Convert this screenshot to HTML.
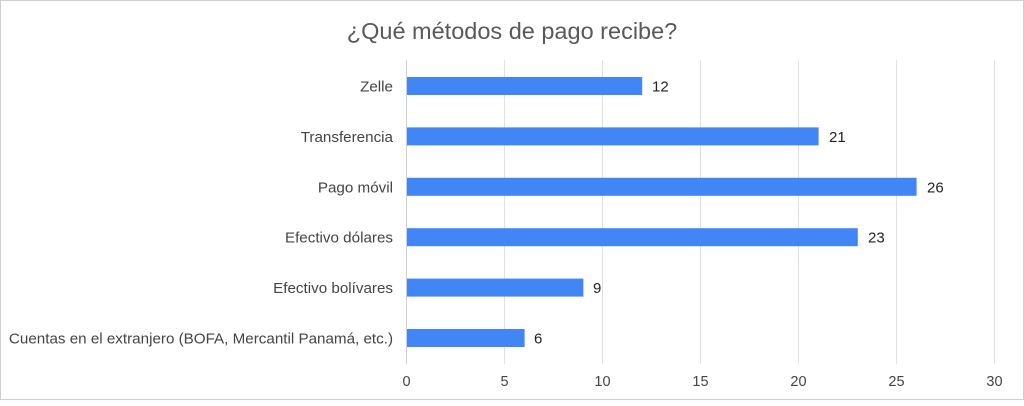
<!DOCTYPE html>
<html><head><style>
body{margin:0;background:#fff;}
svg text{font-family:"Liberation Sans",Arial,sans-serif;}
</style></head><body>
<svg width="1024" height="401" xmlns="http://www.w3.org/2000/svg">
<rect x="0.5" y="0.5" width="1023" height="399" fill="#fff" stroke="#cfcfcf"/>
<text x="512" y="39" font-size="23.5" fill="#595959" text-anchor="middle">¿Qué métodos de pago recibe?</text>
<g stroke="#e0e0e0" stroke-width="1">
<line x1="504.5" y1="60" x2="504.5" y2="364"/>
<line x1="602.5" y1="60" x2="602.5" y2="364"/>
<line x1="700.5" y1="60" x2="700.5" y2="364"/>
<line x1="798.5" y1="60" x2="798.5" y2="364"/>
<line x1="896.5" y1="60" x2="896.5" y2="364"/>
<line x1="994.5" y1="60" x2="994.5" y2="364"/>
<line x1="406.5" y1="60" x2="406.5" y2="364" stroke="#d0d0d0"/>
</g>
<g fill="#4285f4">
<rect x="407" y="77" width="235.2" height="18"/>
<rect x="407" y="127.4" width="411.6" height="18"/>
<rect x="407" y="177.8" width="509.6" height="18"/>
<rect x="407" y="228.2" width="450.8" height="18"/>
<rect x="407" y="278.6" width="176.4" height="18"/>
<rect x="407" y="329" width="117.6" height="18"/>
</g>
<g font-size="15" fill="#222">
<text x="652" y="91.5">12</text>
<text x="829" y="141.9">21</text>
<text x="927" y="192.3">26</text>
<text x="868" y="242.7">23</text>
<text x="593" y="293.1">9</text>
<text x="534" y="343.5">6</text>
</g>
<g font-size="15.2" fill="#444" text-anchor="end">
<text x="393" y="91.5">Zelle</text>
<text x="393" y="141.9">Transferencia</text>
<text x="393" y="192.3">Pago móvil</text>
<text x="393" y="242.7">Efectivo dólares</text>
<text x="393" y="293.1">Efectivo bolívares</text>
<text x="393" y="343.5">Cuentas en el extranjero (BOFA, Mercantil Panamá, etc.)</text>
</g>
<g font-size="14.5" fill="#444" text-anchor="middle">
<text x="406.5" y="386">0</text>
<text x="504.5" y="386">5</text>
<text x="602.5" y="386">10</text>
<text x="700.5" y="386">15</text>
<text x="798.5" y="386">20</text>
<text x="896.5" y="386">25</text>
<text x="994.5" y="386">30</text>
</g>
</svg>
</body></html>
